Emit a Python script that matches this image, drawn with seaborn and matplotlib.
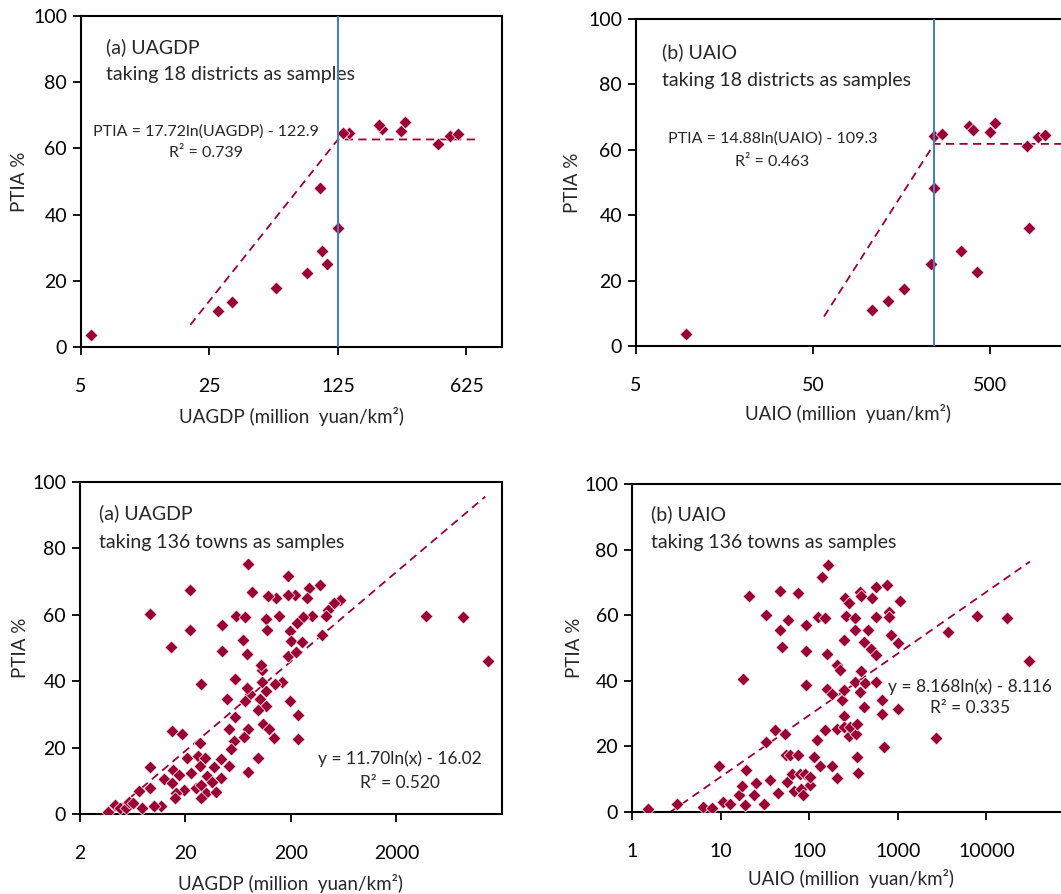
import numpy as np
import matplotlib
matplotlib.use('Agg')
import matplotlib.pyplot as plt
import seaborn as sns

sns.set_style('ticks')
plt.rcParams['font.family'] = ['Lato', 'DejaVu Sans']

RED = '#990033'
BLUE = '#4a7ebb'

# ---- (a) UAGDP, 18 districts ----
dist_gdp_x = [5.67, 27.9, 33.0, 57.6, 84.4, 102, 109, 100, 125, 144, 133, 218, 209, 275, 289, 440, 508, 560]
dist_gdp_y = [3.6, 10.9, 13.6, 17.7, 22.4, 29.1, 25.0, 47.9, 36.0, 64.7, 64.8, 65.9, 67.2, 65.2, 67.9, 61.2, 63.7, 64.2]
dist_gdp_trend_x = [19.7, 125, 125, 722]
dist_gdp_trend_y = [6.7, 62.7, 62.7, 62.7]
dist_gdp_break = 125

# ---- (b) UAIO, 18 districts ----
dist_io_x = [9.6, 108, 132, 164, 232, 242, 242, 267, 344, 420, 379, 403, 500, 536, 805, 826, 934, 1028]
dist_io_y = [3.8, 11.0, 13.7, 17.4, 25.2, 48.2, 64.1, 64.9, 28.9, 22.6, 67.3, 65.9, 65.4, 68.1, 61.2, 36.1, 63.8, 64.5]
dist_io_trend_x = [57.7, 242, 242, 1330]
dist_io_trend_y = [9.0, 61.8, 61.8, 61.8]
dist_io_break = 242

# ---- (a) UAGDP, 136 towns ----
town_gdp_x = [78.5, 189, 22.0, 85.1, 380, 297, 218, 143, 122, 186, 282, 577, 506, 447,
              9.3, 59.9, 73.5, 155, 115, 317, 260, 227, 431, 22.0, 119, 197, 44.7, 70.8,
              200, 253, 394, 14.6, 44.7, 76.2, 189, 223, 27.8, 58.6, 164, 107, 104, 107,
              141, 116, 82.0, 76.2, 49.9, 72.9, 102, 197, 116, 96.4, 58.6, 235, 14.8, 18.7,
              51.8, 78.5, 108, 123, 27.6, 57.7, 71.9, 139, 235, 53.7, 20.5, 26.2, 30.3, 43.1,
              97.8, 9.3, 27.4, 37.2, 51.4, 78.5, 15.3, 12.4, 17.3, 22.6, 43.1, 32.2, 14.9,
              24.9, 27.8, 19.3, 9.3, 7.3, 16.4, 35.9, 31.0, 38.6, 27.8, 15.9, 7.7, 11.7,
              10.1, 3.7, 4.3, 4.8, 5.5, 5.8, 6.4, 3780, 8630, 14700]
town_gdp_y = [75.4, 71.7, 67.5, 66.9, 69.1, 68.0, 66.0, 64.9, 65.7, 66.0, 65.2, 64.4, 63.5, 61.3,
              60.2, 59.7, 59.2, 59.7, 58.7, 59.7, 59.2, 57.5, 59.5, 55.5, 55.5, 55.0, 57.0, 52.5,
              52.0, 51.8, 54.0, 50.3, 49.1, 48.1, 47.6, 48.9, 39.2, 40.8, 39.8, 43.4, 45.0, 39.9,
              39.2, 37.1, 36.1, 37.9, 34.6, 33.9, 34.5, 34.1, 32.4, 31.2, 29.3, 29.8, 25.1, 24.0,
              25.7, 25.7, 27.0, 25.7, 21.5, 22.0, 23.3, 23.0, 22.5, 19.7, 16.9, 17.5, 16.8, 16.7,
              16.8, 14.3, 14.5, 14.3, 14.5, 12.6, 13.3, 10.6, 11.8, 12.3, 10.9, 11.5, 9.4,
              7.7, 8.7, 7.2, 7.7, 6.9, 6.2, 9.7, 6.2, 6.7, 4.7, 4.7, 1.9, 2.5,
              2.3, 0.7, 2.7, 1.8, 1.9, 3.7, 3.2, 59.7, 59.2, 46.1]
town_gdp_coef = (11.70, -16.02)
town_gdp_trend_x = [3.9, 13900]

# ---- (b) UAIO, 136 towns ----
town_io_x = [1.51, 3.2, 6.3, 8.0, 9.7, 10.6, 12.9, 16.1, 17.6, 19.5, 18.7, 17.7, 21.1, 24.0,
             25.2, 30.5, 32.7, 32.7, 35.7, 41.4, 44.0, 46.3, 46.3, 49.2, 53.6, 57.4, 54, 61.1,
             55.6, 63.8, 66.6, 74.5, 74.5, 81.2, 84.9, 78, 92.5, 92.5, 92.5, 88.5, 103, 103,
             112, 122, 127, 133, 139, 151, 151, 158, 165, 160, 180, 180, 205, 205, 208, 224,
             234, 244, 244, 244, 255, 278, 261, 278, 248, 290, 330, 330, 330, 339, 345, 345,
             351, 376, 386, 386, 376, 410, 410, 428, 455, 509, 496, 565, 565, 565, 565, 660,
             660, 702, 764, 798, 798, 834, 1000, 1000, 1045, 2705, 3720, 7910, 17250, 30000]
town_io_y = [1.0, 2.5, 1.5, 1.2, 14.1, 3.1, 2.5, 5.1, 7.8, 12.7, 2.0, 40.7, 65.9, 5.3,
             8.9, 2.5, 21.4, 60.2, 9.9, 25.1, 5.9, 67.4, 55.4, 50.2, 23.9, 58.5, 17.3, 17.3,
             9.2, 11.7, 6.3, 66.9, 17.3, 7.1, 5.3, 11.7, 57.0, 49.1, 38.7, 11.7, 8.1, 10.7,
             16.8, 22.1, 59.5, 14.0, 71.7, 59.0, 25.1, 48.1, 75.3, 37.6, 14.0, 35.9, 10.5, 25.4, 44.8, 43.4,
             34.3, 37.1, 52.4, 29.2, 65.1, 63.8, 59.7, 23.1, 25.9, 25.9, 59.0, 55.4, 39.7, 23.7, 26.8, 16.8,
             12.0, 67.1, 65.8, 43.0, 36.6, 51.9, 32.0, 39.2, 55.4, 65.4, 49.8, 68.7, 59.5, 47.8, 39.7, 34.1,
             29.8, 19.8, 69.2, 61.0, 59.5, 53.9, 51.4, 31.5, 64.4, 22.6, 54.9, 59.7, 59.2, 46.1]
town_io_coef = (8.168, -8.116)
town_io_trend_x = [2.7, 31000]

fig = plt.figure(figsize=(10.61, 8.94), dpi=100)
ax1 = fig.add_axes([0.0763, 0.6119, 0.3968, 0.3702])
ax2 = fig.add_axes([0.5994, 0.6130, 0.5005, 0.3658])
ax3 = fig.add_axes([0.0754, 0.0895, 0.3977, 0.3714])
ax4 = fig.add_axes([0.5957, 0.0917, 0.4175, 0.3669])

dash = (0, (4.5, 3))


def style(ax, xlim, ticks, base, xlabel, ylab_x, xlab_y, xlab_x=0.5):
    ax.set_xscale('log', base=base)
    ax.set_xlim(*xlim)
    ax.set_ylim(0, 100)
    ax.set_xticks(ticks)
    ax.set_xticklabels([str(t) for t in ticks])
    ax.xaxis.set_minor_locator(matplotlib.ticker.NullLocator())
    ax.set_yticks(range(0, 101, 20))
    ax.tick_params(axis='both', direction='out', length=6, width=1.3, labelsize=14,
                   colors='black')
    ax.tick_params(axis='x', pad=16)
    ax.tick_params(axis='y', pad=4)
    for s in ax.spines.values():
        s.set_linewidth(1.5)
        s.set_color('black')
    ax.set_xlabel(xlabel, fontsize=13.5)
    ax.set_ylabel('PTIA %', fontsize=13.5)
    ax.xaxis.label.set_va('center')
    ax.yaxis.label.set_va('center')
    ax.xaxis.set_label_coords(xlab_x, xlab_y)
    ax.yaxis.set_label_coords(ylab_x, 0.5)


def points(ax, x, y):
    sns.scatterplot(x=x, y=y, ax=ax, marker='D', s=44, color=RED,
                    edgecolor='white', linewidth=0.5, zorder=3)


# top left
points(ax1, dist_gdp_x, dist_gdp_y)
ax1.plot(dist_gdp_trend_x, dist_gdp_trend_y, color=RED, lw=1.3, ls=dash, zorder=2)
ax1.axvline(dist_gdp_break, color=BLUE, lw=1.5, zorder=4)
style(ax1, (5, 975), [5, 25, 125, 625], 5, 'UAGDP (million  yuan/km²)', -0.145, -0.211, 0.501)
ax1.text(0.059, 0.906, '(a) UAGDP', transform=ax1.transAxes, fontsize=14, va='center')
ax1.text(0.059, 0.822, 'taking 18 districts as samples', transform=ax1.transAxes, fontsize=14, va='center')
ax1.text(0.297, 0.650, 'PTIA = 17.72ln(UAGDP) - 122.9', transform=ax1.transAxes, fontsize=11.5,
         ha='center', va='center')
ax1.text(0.297, 0.586, 'R² = 0.739', transform=ax1.transAxes, fontsize=11.5, ha='center', va='center')

# top right
points(ax2, dist_io_x, dist_io_y)
ax2.plot(dist_io_trend_x, dist_io_trend_y, color=RED, lw=1.3, ls=dash, zorder=2)
ax2.axvline(dist_io_break, color=BLUE, lw=1.5, zorder=4)
style(ax2, (5, 5000), [5, 50, 500], 10, 'UAIO (million  yuan/km²)', -0.119, -0.205, 0.399)
ax2.text(0.049, 0.899, '(b) UAIO', transform=ax2.transAxes, fontsize=14, va='center')
ax2.text(0.049, 0.813, 'taking 18 districts as samples', transform=ax2.transAxes, fontsize=14, va='center')
ax2.text(0.257, 0.633, 'PTIA = 14.88ln(UAIO) - 109.3', transform=ax2.transAxes, fontsize=11.5,
         ha='center', va='center')
ax2.text(0.257, 0.563, 'R² = 0.463', transform=ax2.transAxes, fontsize=11.5, ha='center', va='center')

# bottom left
points(ax3, town_gdp_x, town_gdp_y)
tx = np.array(town_gdp_trend_x)
ax3.plot(tx, town_gdp_coef[0] * np.log(tx) + town_gdp_coef[1], color=RED, lw=1.3, ls=dash, zorder=2)
style(ax3, (2, 20000), [2, 20, 200, 2000], 10, 'UAGDP (million  yuan/km²)', -0.142, -0.208, 0.498)
ax3.text(0.045, 0.907, '(a) UAGDP', transform=ax3.transAxes, fontsize=14, va='center')
ax3.text(0.045, 0.819, 'taking 136 towns as samples', transform=ax3.transAxes, fontsize=14, va='center')
ax3.text(0.758, 0.166, 'y = 11.70ln(x) - 16.02', transform=ax3.transAxes, fontsize=12.5,
         ha='center', va='center')
ax3.text(0.758, 0.093, 'R² = 0.520', transform=ax3.transAxes, fontsize=12.5, ha='center', va='center')

# bottom right
points(ax4, town_io_x, town_io_y)
tx = np.array(town_io_trend_x)
ax4.plot(tx, town_io_coef[0] * np.log(tx) + town_io_coef[1], color=RED, lw=1.3, ls=dash, zorder=2)
style(ax4, (1, 100000), [1, 10, 100, 1000, 10000], 10, 'UAIO (million  yuan/km²)',
      -0.129, -0.204, 0.494)
ax4.text(0.043, 0.909, '(b) UAIO', transform=ax4.transAxes, fontsize=14, va='center')
ax4.text(0.043, 0.823, 'taking 136 towns as samples', transform=ax4.transAxes, fontsize=14, va='center')
ax4.text(0.762, 0.381, 'y = 8.168ln(x) - 8.116', transform=ax4.transAxes, fontsize=12.5,
         ha='center', va='center')
ax4.text(0.763, 0.317, 'R² = 0.335', transform=ax4.transAxes, fontsize=12.5, ha='center', va='center')

fig.savefig('out.png', dpi=100)
